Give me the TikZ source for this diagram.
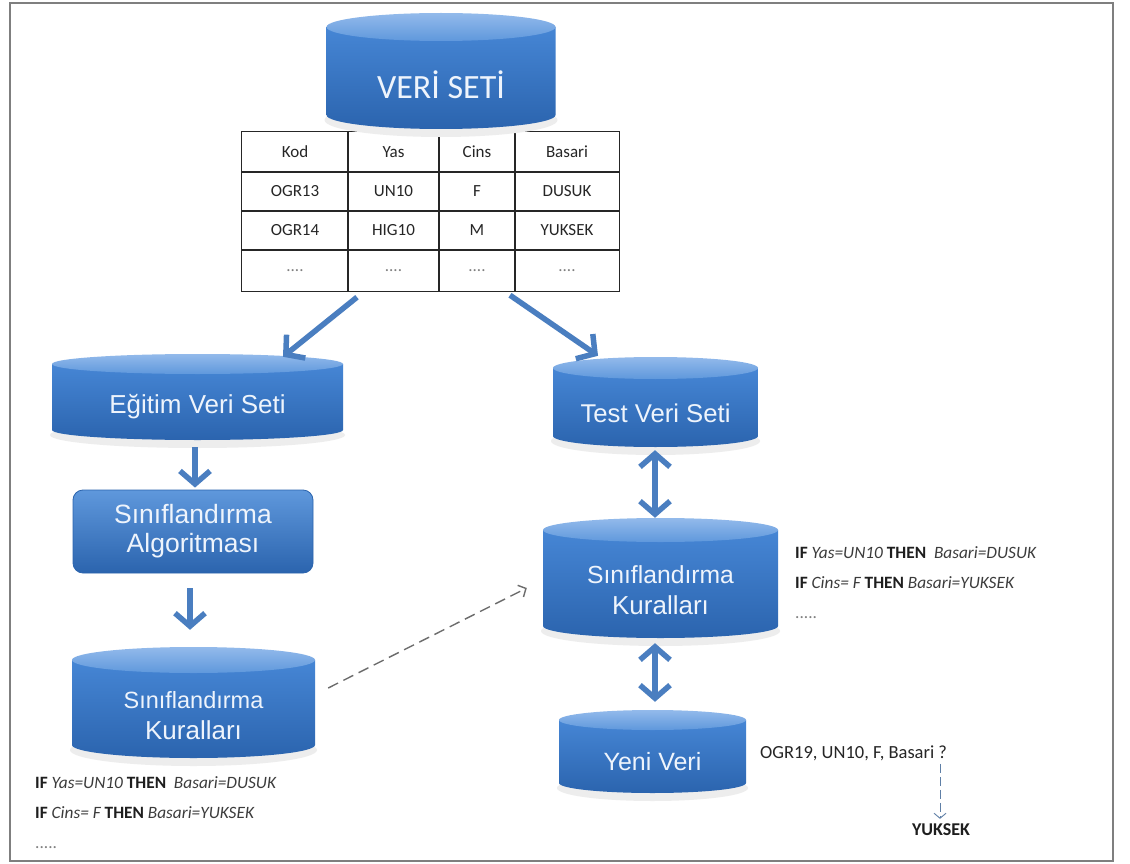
\documentclass[tikz,border=0pt]{standalone}
\usepackage{fontspec}
\setmainfont{Carlito}
\newfontfamily\arialfont{Liberation Sans}
\usetikzlibrary{arrows.meta,calc}

\definecolor{cylA}{HTML}{4686D5}
\definecolor{cylB}{HTML}{2B64AE}
\definecolor{lidA}{HTML}{93BAEB}
\definecolor{lidB}{HTML}{5F98DC}
\definecolor{arrowblue}{HTML}{4A7EC0}
\definecolor{framegray}{HTML}{7F7F7F}
\definecolor{ruleblack}{HTML}{1E1E1E}
\definecolor{rulegray}{HTML}{3C3C3C}
\definecolor{labelwhite}{HTML}{EEF4FC}

\newcommand\celldots{{\color{gray}....}}

\tikzset{
  cyltext/.style={text=labelwhite, font=\arialfont\fontsize{26}{31}\selectfont,
    align=center, inner sep=0pt},
  algbox/.style={rounded corners=10pt, minimum width=240pt, minimum height=83pt,
    top color=lidB, bottom color=cylB, draw=cylB, line width=0.8pt,
    text=labelwhite, align=center, inner sep=0pt,
    font=\arialfont\fontsize{26.5}{29}\selectfont},
  bigarrow/.style={draw=arrowblue, line width=5.5pt,
    -{Straight Barb[length=13pt,width=30pt]}},
  bigdarrow/.style={draw=arrowblue, line width=5.5pt,
    {Straight Barb[length=13pt,width=30pt]}-{Straight Barb[length=13pt,width=30pt]}},
  dasharrow/.style={draw=gray!85!black, line width=1.4pt, dash pattern=on 11pt off 6pt,
    -{Straight Barb[length=6pt,width=13pt]}},
  smallarrow/.style={draw=arrowblue!60!gray, line width=0.9pt, dash pattern=on 9pt off 4pt,
    -{Straight Barb[length=5pt,width=12pt]}},
  tablerule/.style={draw=black!85, line width=1.3pt},
  celltext/.style={font=\fontsize{17}{19}\selectfont, text=black!85, inner sep=0pt},
  rules/.style={font=\fontsize{17.3}{30}\selectfont, align=left, anchor=west, inner sep=0pt,
    text=ruleblack},
}

% #1 name, #2 centre x, #3 lid centre depth, #4 base centre depth,
% #5 half width, #6 ellipse half height, #7 label
\newcommand\dbcylinder[7]{%
  \fill[black!7] (#2,{-(#4+5)}) ellipse[x radius={#5+2}, y radius={#6+3}];
  \shade[top color=cylA, bottom color=cylB]
    ({#2-#5},{-#3}) -- ({#2-#5},{-#4})
    arc[start angle=180, end angle=360, x radius=#5, y radius=#6]
    -- ({#2+#5},{-#3}) -- cycle;
  \shade[top color=lidA, bottom color=lidB] (#2,{-#3}) ellipse[x radius=#5, y radius=#6];
  \node[inner sep=0pt, minimum width={2*#5}, minimum height={#4-#3+2*#6}]
    (#1) at (#2,{-(#3+#4)/2}) {};
  \node[cyltext] (#1-label) at (#2,{-((#3+#4)/2+#6)}) {#7};
}

\begin{document}
\begin{tikzpicture}[x=1pt,y=1pt]
\useasboundingbox (0,0) rectangle (1130,-864);
\fill[white] (0,0) rectangle (1130,-864);
\draw[framegray, line width=2pt] (9.5,-3.5) rectangle (1113,-861);

% data table
\node[fill=white, inner sep=0pt, minimum width=377pt, minimum height=159pt] (tbl) at (430.5,-211.5) {};
\draw[tablerule] (tbl.north west) rectangle (tbl.south east);
\foreach \x in {348,439,515} \draw[tablerule] (\x,-132) -- (\x,-291);
\foreach \y in {172,211,250} \draw[tablerule] (242,-\y) -- (619,-\y);
\foreach \t [count=\i] in {Kod,Yas,Cins,Basari,OGR13,UN10,F,DUSUK,OGR14,HIG10,M,YUKSEK,\celldots,\celldots,\celldots,\celldots}{
  \pgfmathtruncatemacro\r{int((\i-1)/4)}
  \pgfmathtruncatemacro\c{mod(\i-1,4)}
  \pgfmathsetmacro\cx{{295,393.5,477,567}[\c]}
  \pgfmathsetmacro\cy{{152,191.5,230.5,270.5}[\r]}
  \node[celltext] (cell-\r-\c) at (\cx,-\cy) {\t};
}

% data stores
\dbcylinder{veri}{441}{27}{115}{114.5}{14}{\setmainfont{Carlito}\fontsize{34}{36}\selectfont VERİ SETİ}
\dbcylinder{egitim}{197.5}{364}{430}{145.5}{10}{Eğitim Veri Seti}
\dbcylinder{test}{655.5}{368}{436}{102.5}{11}{\fontsize{25.7}{30}\selectfont Test Veri Seti}
\dbcylinder{kurR}{660.5}{530}{626}{117.5}{12}{\fontsize{24.7}{32}\selectfont Sınıflandırma\\Kuralları}
\dbcylinder{kurL}{193.5}{660}{745}{121.5}{13}{\fontsize{23.5}{33}\selectfont Sınıflandırma\\Kuralları}
\dbcylinder{yeni}{652.5}{720}{783}{93.5}{10}{\fontsize{25}{30}\selectfont Yeni Veri}

% algorithm box
\node[algbox] (alg) at (193,-531.5) {Sınıflandırma\\Algoritması};

% rule listings
\node[rules] (rulesL) at (35,-812.5) {%
  {\bfseries IF} {\itshape\color{rulegray}Yas=UN10} {\bfseries THEN}\ \ {\itshape\color{rulegray}Basari=DUSUK}\\
  {\bfseries IF} {\itshape\color{rulegray}Cins= F} {\bfseries THEN} {\itshape\color{rulegray}Basari=YUKSEK}\\
  {\color{gray}.....}};
\node[rules] (rulesR) at (795,-582.5) {%
  {\bfseries IF} {\itshape\color{rulegray}Yas=UN10} {\bfseries THEN}\ \ {\itshape\color{rulegray}Basari=DUSUK}\\
  {\bfseries IF} {\itshape\color{rulegray}Cins= F} {\bfseries THEN} {\itshape\color{rulegray}Basari=YUKSEK}\\
  {\color{gray}.....}};

% new record and its predicted class
\node[anchor=west, inner sep=0pt, font=\fontsize{18.5}{20}\selectfont, text=black!85] (ogr) at (760,-753) {OGR19, UN10, F, Basari ?};
\node[inner sep=0pt, font=\bfseries\fontsize{18}{20}\selectfont, text=ruleblack] (yuk) at (941,-830) {YUKSEK};

% connectors
\draw[bigarrow] ($(tbl.south)+(-73.5,-6)$) -- ($(egitim.north)+(85.5,-3)$);
\draw[bigarrow] ($(tbl.south)+(79.5,-4)$) -- ($(test.north)+(-57.5,1)$);
\draw[bigarrow] ($(egitim.south)+(-2.5,-7)$) -- ($(alg.north)+(2,2)$);
\draw[bigarrow] ($(alg.south)+(-3,-15)$) -- ($(kurL.north)+(-3.5,17)$);
\draw[bigdarrow] ($(test.south)+(-0.5,-3)$) -- ($(kurR.north)+(-5.5,0)$);
\draw[bigdarrow] ($(kurR.south)+(-5.5,-5)$) -- ($(yeni.north)+(2.5,8)$);
\draw[dasharrow] ($(kurL.east)+(13,14.5)$) -- ($(kurR.west)+(-16,-10)$);
\draw[smallarrow] ($(yuk.north |- ogr.south)+(-1,-3)$) -- ($(yuk.north)+(-1,5)$);
\end{tikzpicture}
\end{document}
